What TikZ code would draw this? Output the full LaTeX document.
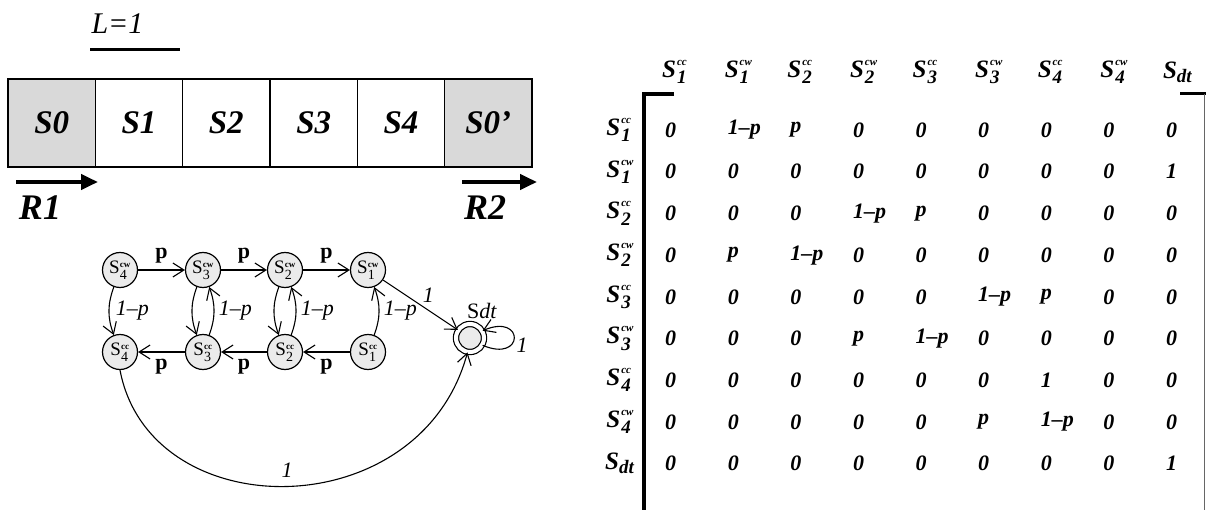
\documentclass[tikz,border=0pt]{standalone}
\usepackage{amsmath}
\usepackage{fontspec}
\setmainfont{Liberation Serif}
\usetikzlibrary{positioning,arrows.meta}

% state names: S with stacked tag and index
\newcommand{\mst}[2]{S\kern1pt\rlap{\raisebox{1.05ex}{\fontsize{11}{11}\selectfont #1}}\raisebox{-0.55ex}{\fontsize{19}{19}\selectfont #2}\kern3pt}
\newcommand{\gst}[2]{S$^{\text{\fontsize{9}{9}\bfseries\selectfont #1}}_{\text{\fontsize{14}{14}\selectfont #2}}$}
\newcommand{\mdt}{S\raisebox{-0.35ex}{\fontsize{19}{19}\selectfont dt}}

\begin{document}
\begin{tikzpicture}[x=1pt,y=-1pt]

% ---- Styles ----
\tikzset{
  cellbox/.style={rectangle, draw, line width=1.2pt, minimum width=87.3pt,
                  minimum height=88pt, inner sep=0pt,
                  font=\fontsize{33}{33}\bfseries\itshape\selectfont},
  endcell/.style={cellbox, fill=black!15},
  stnode/.style={circle, draw, line width=1.2pt, fill=black!8,
                 minimum size=35pt, inner sep=0pt,
                 font=\fontsize{19}{19}\selectfont},
  arr/.style={line width=1.1pt,
              -{Straight Barb[length=11pt,width=14pt,line width=1.1pt]}},
  bigarr/.style={line width=4pt, -{Triangle[length=17pt,width=15pt]}},
  plab/.style={font=\fontsize{22}{22}\bfseries\selectfont},
  qlab/.style={font=\fontsize{22}{22}\itshape\selectfont},
  entry/.style={anchor=west, inner sep=0pt,
                font=\fontsize{22}{22}\bfseries\itshape\selectfont},
  mlab/.style={inner sep=0pt, font=\fontsize{25}{25}\bfseries\itshape\selectfont},
}
\useasboundingbox (0,0) rectangle (1206,510);

% --- Tape ---
\node[font=\fontsize{30}{30}\itshape\selectfont, anchor=west] (len) at (88,24) {L=1};
\draw[line width=3pt] (90,50) -- (180,50);
\node[endcell]  (c0) at (51.7,123)  {S0};
\node[cellbox]  (c1) at (139,123)   {S1};
\node[cellbox]  (c2) at (226.3,123) {S2};
\node[cellbox]  (c3) at (313.7,123) {S3};
\node[cellbox]  (c4) at (401,123)   {S4};
\node[endcell]  (c5) at (488.3,123) {S0'};

% --- Robots ---
\coordinate (r1s) at (16,182);
\coordinate (r1e) at (98,182);
\coordinate (r2s) at (462,182);
\coordinate (r2e) at (537,182);
\draw[bigarr] (r1s) -- (r1e);
\draw[bigarr] (r2s) -- (r2e);
\node[font=\fontsize{36}{36}\bfseries\itshape\selectfont] (r1) at (40,208) {R1};
\node[font=\fontsize{36}{36}\bfseries\itshape\selectfont] (r2) at (485,208) {R2};

% --- Markov chain ---
\node[stnode] (s4w) at (120,270) {\gst{cw}{4}};
\node[stnode] (s3w) at (203,270) {\gst{cw}{3}};
\node[stnode] (s2w) at (285,270) {\gst{cw}{2}};
\node[stnode] (s1w) at (368,270) {\gst{cw}{1}};
\node[stnode] (s4c) at (120,352) {\gst{cc}{4}};
\node[stnode] (s3c) at (203,352) {\gst{cc}{3}};
\node[stnode] (s2c) at (285,352) {\gst{cc}{2}};
\node[stnode] (s1c) at (368,352) {\gst{cc}{1}};
\node[stnode, minimum size=28pt, double, double distance=4pt] (sdt) at (470,338) {};
\node[font=\fontsize{22}{22}\selectfont, above=1pt of sdt, xshift=12pt] (sdtlbl) {S\textit{dt}};

\draw[arr] (s4w) -- node[plab, above=3pt] {p} (s3w);
\draw[arr] (s3w) -- node[plab, above=3pt] {p} (s2w);
\draw[arr] (s2w) -- node[plab, above=3pt] {p} (s1w);
\draw[arr] (s1c) -- node[plab, below=3pt] {p} (s2c);
\draw[arr] (s2c) -- node[plab, below=3pt] {p} (s3c);
\draw[arr] (s3c) -- node[plab, below=3pt] {p} (s4c);

\draw[arr] (s4w.250) to[bend right=20] node[qlab, right=3pt] {1--p} (s4c.110);
\draw[arr] (s3w.250) to[bend right=20] (s3c.110);
\draw[arr] (s3c.70) to[bend right=20] node[qlab, right=1pt] {1--p} (s3w.290);
\draw[arr] (s2w.250) to[bend right=20] (s2c.110);
\draw[arr] (s2c.70) to[bend right=20] node[qlab, right=1pt] {1--p} (s2w.290);
\draw[arr] (s1c.70) to[bend right=20] node[qlab, right=1pt] {1--p} (s1w.290);

\draw[arr] (s1w) -- node[qlab, above right=-2pt] {1} (sdt);
\draw[arr] (sdt.-30) .. controls +(42,18) and +(42,-18) .. (sdt.30);
\node[qlab] (loopl) at (522,345) {1};
\draw[arr] (s4c.south) .. controls (150,528) and (420,528) .. (sdt.260)
  node[qlab, pos=0.5, above=5pt] {1};

% --- Transition matrix ---
\foreach \lbl [count=\c] in {{\mst{cc}{1}},{\mst{cw}{1}},{\mst{cc}{2}},{\mst{cw}{2}},
    {\mst{cc}{3}},{\mst{cw}{3}},{\mst{cc}{4}},{\mst{cw}{4}},{\mdt}} {
  \node[mlab, anchor=west] (hd-\c) at ({662+62.6*(\c-1)},72) {\lbl};
  \node[mlab, anchor=east] (rl-\c) at (634,{130+41.7*(\c-1)}) {\lbl};
}
\foreach \row [count=\r] in {
    {0,1--p,p,0,0,0,0,0,0},
    {0,0,0,0,0,0,0,0,1},
    {0,0,0,1--p,p,0,0,0,0},
    {0,p,1--p,0,0,0,0,0,0},
    {0,0,0,0,0,1--p,p,0,0},
    {0,0,0,p,1--p,0,0,0,0},
    {0,0,0,0,0,0,1,0,0},
    {0,0,0,0,0,p,1--p,0,0},
    {0,0,0,0,0,0,0,0,1}} {
  \foreach \e [count=\c] in \row {
    \node[entry] (m-\r-\c) at ({665+62.6*(\c-1)},{130+41.7*(\r-1)}) {\e};
  }
}
\draw[line width=3.5pt] (674,94) -- (644,94) -- (644,510);
\draw[line width=3pt] (1180,94) -- (1206,94);
\draw[line width=0.6pt, black!60] (1204,94) -- (1204,510);

\end{tikzpicture}
\end{document}
